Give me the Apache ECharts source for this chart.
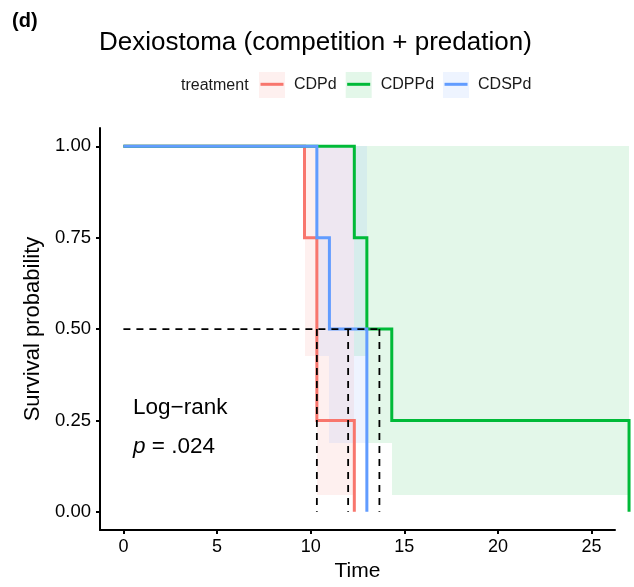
<!DOCTYPE html>
<html>
<head>
<meta charset="utf-8">
<script src="https://cdn.jsdelivr.net/npm/echarts@6/dist/echarts.min.js"></script>
<style>
  html, body { margin: 0; padding: 0; background: #fff; }
  #main { width: 634px; height: 587px; }
</style>
</head>
<body>
<div id="main"></div>
<script>
// survival curves (time, survival)
var groups = ['CDPd', 'CDPPd', 'CDSPd'];
var groupColors = ['#F8766D', '#00BA38', '#619CFF'];
var cdpdSteps = [[0, 1], [9.67, 0.75], [10.33, 0.25], [12.33, 0]];
var cdppdSteps = [[0, 1], [12.33, 0.75], [13, 0.5], [14.33, 0.25], [27, 0]];
var cdspdSteps = [[0, 1], [10.33, 0.75], [11, 0.5], [13, 0]];

// confidence bands : [from, to, lower, upper]
var cdpdBand = [[9.67, 10.33, 0.426, 1], [10.33, 12.33, 0.046, 1]];
var cdppdBand = [[12.33, 13, 0.426, 1], [13, 14.33, 0.188, 1], [14.33, 27, 0.046, 1]];
var cdspdBand = [[10.33, 11, 0.426, 1], [11, 13, 0.188, 1]];

// median survival times
var medianTimes = [10.33, 12, 13.67];

var xTicks = [0, 5, 10, 15, 20, 25];
var yTicks = [0, 0.25, 0.5, 0.75, 1];

var FONT = '"Liberation Sans", Arial, Helvetica, sans-serif';
var BAND_ALPHA = 0.11;

var chart = echarts.init(document.getElementById('main'), null, { renderer: 'canvas' });

function renderBand(params, api) {
  var p0 = api.coord([api.value(0), api.value(3)]);
  var p1 = api.coord([api.value(1), api.value(2)]);
  var x0 = Math.round(p0[0]), x1 = Math.round(p1[0]);
  var y0 = Math.round(p0[1]), y1 = Math.round(p1[1]);
  return {
    type: 'rect',
    shape: { x: x0, y: y0, width: x1 - x0, height: y1 - y0 },
    style: { fill: api.visual('color'), opacity: BAND_ALPHA }
  };
}

// whole step curve as one polyline (line series clips at the axis end, this one must not)
function curveRenderer(steps) {
  return function (params, api) {
    if (params.dataIndex !== 0) return null;
    var pts = [];
    for (var k = 0; k < steps.length; k++) {
      var p = api.coord(steps[k]);
      if (k > 0) pts.push([p[0], pts[pts.length - 1][1]]);
      pts.push(p);
    }
    return {
      type: 'polyline',
      shape: { points: pts },
      style: { stroke: api.visual('color'), lineWidth: 3, fill: null, lineJoin: 'miter' }
    };
  };
}

var stepData = [cdpdSteps, cdppdSteps, cdspdSteps];
var bandData = [cdpdBand, cdppdBand, cdspdBand];

var series = [];
// curves first so the legend takes its colour from them
groups.forEach(function (g, i) {
  series.push({
    name: g,
    type: 'custom',
    renderItem: curveRenderer(stepData[i]),
    data: stepData[i],
    encode: { x: 0, y: 1 },
    clip: false,
    z: 3,
    color: groupColors[i],
    silent: true
  });
});
groups.forEach(function (g, i) {
  series.push({
    name: g,
    type: 'custom',
    renderItem: renderBand,
    data: bandData[i],
    encode: { x: [0, 1], y: [2, 3] },
    clip: false,
    z: 1,
    color: groupColors[i],
    silent: true
  });
});
// median lines
var lastMedian = Math.max.apply(null, medianTimes);
series.push({
  type: 'line',
  data: [[0, 0.5], [lastMedian, 0.5]],
  symbol: 'none',
  z: 4,
  silent: true,
  lineStyle: { color: '#000', width: 1.8, type: [7, 6] }
});
medianTimes.forEach(function (t) {
  series.push({
    type: 'line',
    data: [[t, 0.5], [t, 0]],
    symbol: 'none',
    z: 4,
    silent: true,
    lineStyle: { color: '#000', width: 1.8, type: [7, 6] }
  });
});

chart.setOption({
  animation: false,
  textStyle: { fontFamily: FONT },
  title: [{
    text: '(d)',
    left: 12,
    top: 11,
    padding: 0,
    textStyle: { fontFamily: FONT, fontSize: 20, fontWeight: 'bold', color: '#000' }
  }, {
    text: 'Dexiostoma (competition + predation)',
    left: 99,
    top: 30,
    padding: 0,
    textStyle: { fontFamily: FONT, fontSize: 26, fontWeight: 'normal', color: '#000' }
  }],
  legend: [{
    // key backgrounds
    data: groups,
    left: 259,
    top: 72,
    padding: 0,
    itemWidth: 26,
    itemHeight: 26,
    itemGap: 9,
    icon: 'rect',
    itemStyle: { opacity: BAND_ALPHA },
    textStyle: { fontFamily: FONT, fontSize: 16, color: '#1a1a1a', padding: [0, 0, 0, 4] },
    selectedMode: false
  }, {
    // key lines
    data: groups,
    left: 260.5,
    top: 76.3,
    padding: 0,
    itemWidth: 23,
    itemHeight: 3,
    itemGap: 10.5,
    icon: 'rect',
    textStyle: { fontFamily: FONT, fontSize: 16, color: 'rgba(0,0,0,0)', padding: [0, 0, 0, 5.5] },
    selectedMode: false
  }],
  graphic: [{
    type: 'text',
    left: 181,
    top: 78,
    style: { text: 'treatment', font: '16px ' + FONT, fill: '#1a1a1a' }
  }, {
    type: 'text',
    left: 133,
    top: 388,
    style: {
      text: 'Log\u2212rank\n{i|p} = .024',
      font: '22.5px ' + FONT,
      fill: '#000',
      lineHeight: 39,
      rich: { i: { fontStyle: 'italic', font: 'italic 22.5px ' + FONT, fill: '#000', lineHeight: 39 } }
    }
  }],
  grid: { left: 100, right: 19, top: 128, bottom: 55.5 },
  xAxis: {
    type: 'value',
    min: -1.25,
    max: 26.25,
    name: 'Time',
    nameLocation: 'middle',
    nameGap: 29,
    nameTextStyle: { fontFamily: FONT, fontSize: 21, color: '#000' },
    splitLine: { show: false },
    axisLine: { show: true, onZero: false, lineStyle: { color: '#000', width: 2 } },
    axisTick: { show: true, length: 4, customValues: xTicks, lineStyle: { color: '#000', width: 2 } },
    axisLabel: { customValues: xTicks, margin: 8, fontSize: 18, color: '#000', fontFamily: FONT }
  },
  yAxis: {
    type: 'value',
    min: -0.05,
    max: 1.05,
    name: 'Survival probability',
    nameLocation: 'middle',
    nameGap: 50,
    nameTextStyle: { fontFamily: FONT, fontSize: 22, color: '#000' },
    splitLine: { show: false },
    axisLine: { show: true, onZero: false, lineStyle: { color: '#000', width: 2 } },
    axisTick: { show: true, length: 4, customValues: yTicks, lineStyle: { color: '#000', width: 2 } },
    axisLabel: {
      customValues: yTicks,
      margin: 9,
      fontSize: 18.5,
      color: '#000',
      fontFamily: FONT,
      formatter: function (v) { return v.toFixed(2); }
    }
  },
  series: series
});
</script>
</body>
</html>
